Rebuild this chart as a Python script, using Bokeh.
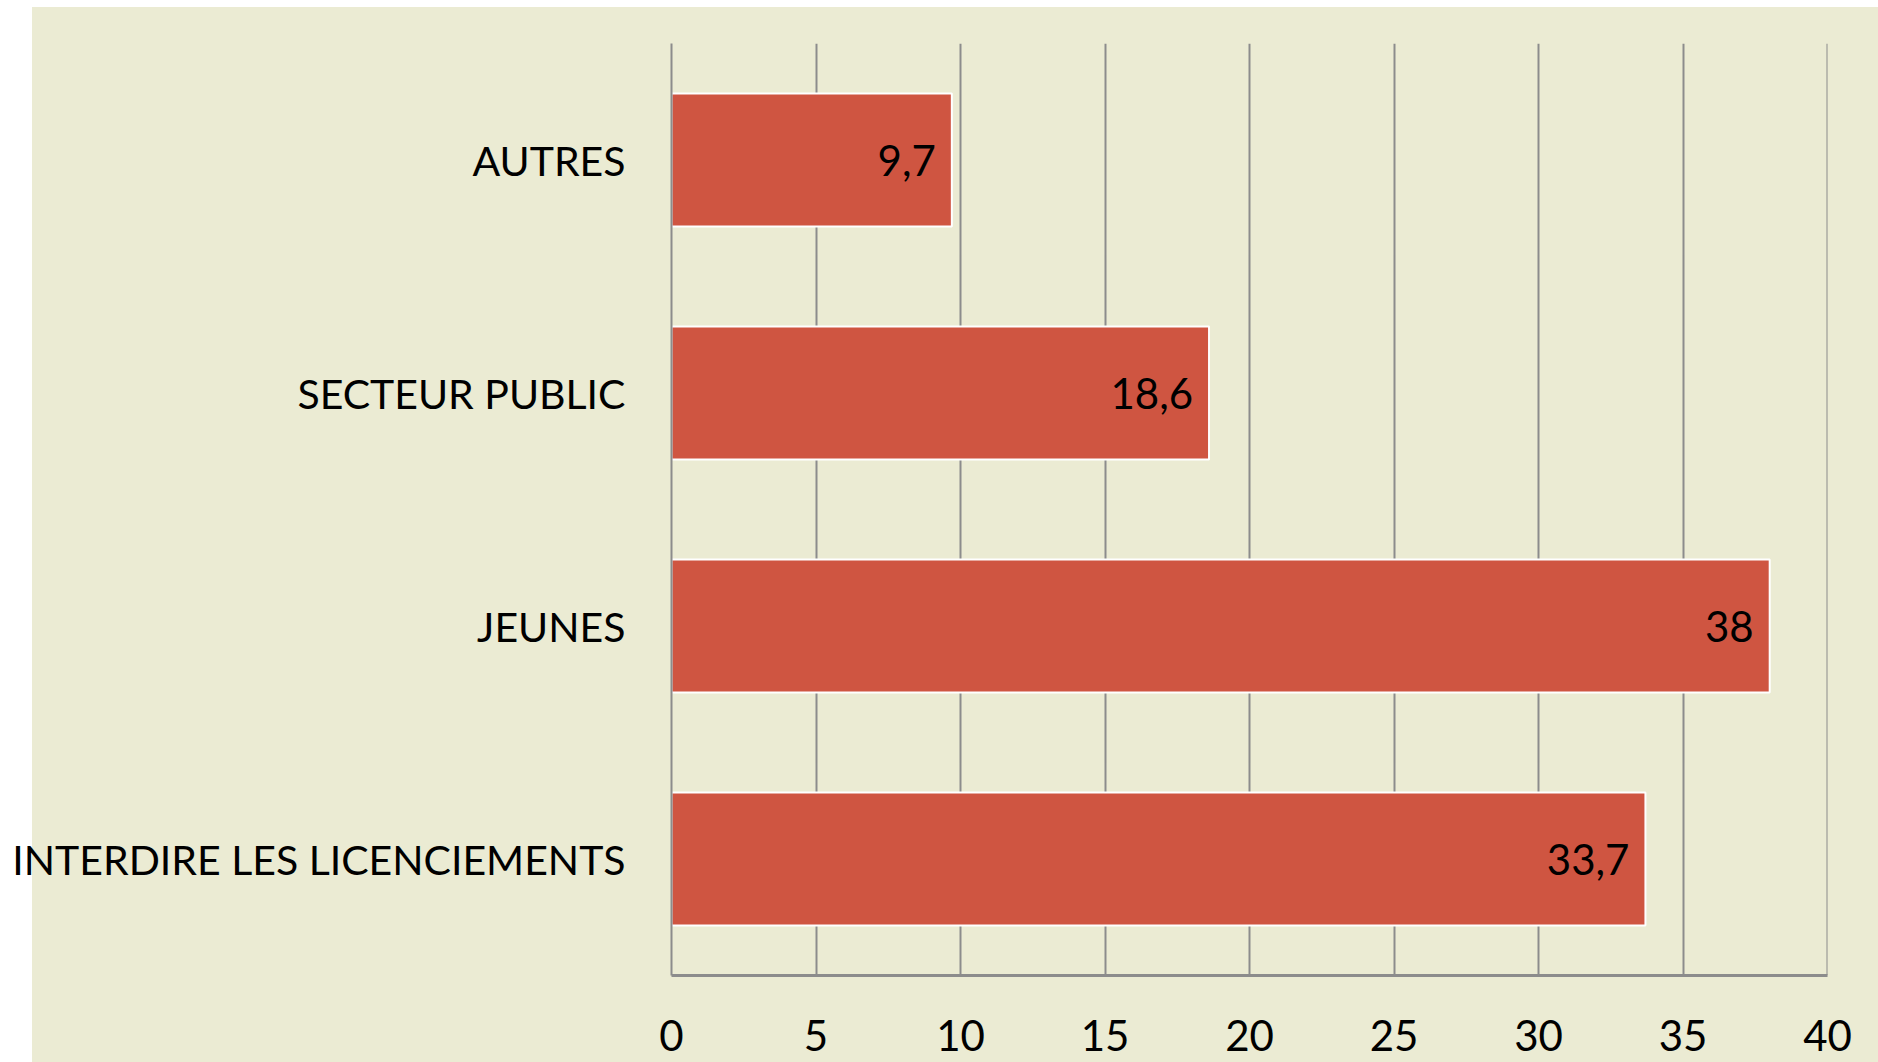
from bokeh.plotting import figure
from bokeh.models import FactorRange, Range1d, FixedTicker, ColumnDataSource, Span
from bokeh.core.properties import value
from bokeh.embed import file_html
from bokeh.resources import INLINE

categories = ["INTERDIRE LES LICENCIEMENTS", "JEUNES", "SECTEUR PUBLIC", "AUTRES"]
values = [33.7, 38.0, 18.6, 9.7]
labels = [f"{v:g}".replace(".", ",") for v in values]
x_ticks = [0, 5, 10, 15, 20, 25, 30, 35, 40]

FONT = "Lato"
BG = "#EBEBD3"
BAR = "#CF5541"
GRID = "#8C8C8C"

src = ColumnDataSource(dict(cat=categories, val=values, lab=labels))

W, H = 1878, 1062
p = figure(width=W, height=H, output_backend="svg", toolbar_location=None,
           y_range=FactorRange(factors=categories, range_padding=0),
           x_range=Range1d(0, 40),
           min_border_left=671, min_border_right=51, min_border_top=43, min_border_bottom=87)
p.background_fill_color = BG
p.border_fill_color = None
p.outline_line_color = None
# page background: white strips at the left and top edges, beige elsewhere
p.styles = {"background": f"linear-gradient(to right, white 32px, transparent 32px), "
                          f"linear-gradient(to bottom, white 7px, {BG} 7px)"}

# edge gridline at the last tick
p.add_layout(Span(location=x_ticks[-1], dimension="height", line_color=GRID,
                  line_width=2, level="underlay"))

p.hbar(y="cat", right="val", left=0, height=0.57, source=src,
       fill_color=BAR, line_color="white", line_width=2)
p.text(x="val", y="cat", text="lab", source=src, x_offset=-16,
       text_align="right", text_baseline="middle", text_color="black",
       text_font=value(FONT), text_font_size="42px")

p.xgrid.ticker = FixedTicker(ticks=x_ticks)
p.xgrid.grid_line_color = GRID
p.xgrid.grid_line_width = 2
p.ygrid.grid_line_color = None

p.xaxis.ticker = FixedTicker(ticks=x_ticks)
p.xaxis.axis_line_color = GRID
p.xaxis.axis_line_width = 3
p.xaxis.major_tick_line_color = None
p.xaxis.minor_tick_line_color = None
p.xaxis.major_tick_out = 0
p.xaxis.major_tick_in = 0
p.xaxis.major_label_standoff = 44
p.xaxis.major_label_text_font = FONT
p.xaxis.major_label_text_font_size = "42px"
p.xaxis.major_label_text_color = "black"

p.yaxis.axis_line_color = GRID
p.yaxis.axis_line_width = 2
p.yaxis.major_tick_line_color = None
p.yaxis.minor_tick_line_color = None
p.yaxis.major_tick_out = 0
p.yaxis.major_tick_in = 0
p.yaxis.major_label_standoff = 46
p.yaxis.major_label_text_font = FONT
p.yaxis.major_label_text_font_size = "41px"
p.yaxis.major_label_text_color = "black"

open("out.html", "w").write(file_html(p, INLINE))
